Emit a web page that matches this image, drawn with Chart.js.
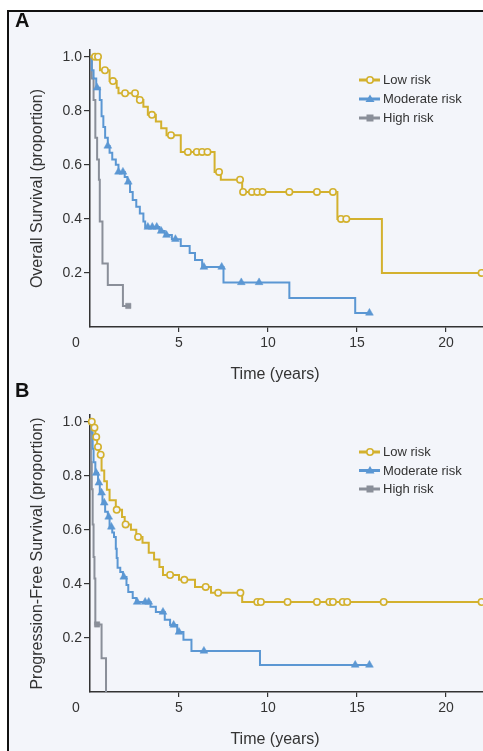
<!DOCTYPE html>
<html>
<head>
<meta charset="utf-8">
<script src="https://cdn.jsdelivr.net/npm/chart.js@4.4.1/dist/chart.umd.min.js"></script>
<style>
  html, body { margin: 0; padding: 0; background: #fff; }
  body { width: 483px; height: 751px; position: relative; overflow: hidden; }
  #frame { position: absolute; left: 7px; top: 10px; width: 480px; height: 745px;
           background: #f3f5fa; border-top: 2px solid #111; border-left: 2px solid #111; }
  .panel { position: absolute; left: 0; width: 483px; }
  #wrapA { top: 0; height: 385px; }
  #wrapB { top: 385px; height: 366px; }
  .tag { position: absolute; left: 15px; font: bold 20px/20px 'Liberation Sans', Arial, sans-serif; color: #111; }
</style>
</head>
<body>
<div id="frame"></div>
<div class="panel" id="wrapA"><canvas id="chartA"></canvas></div>
<div class="panel" id="wrapB"><canvas id="chartB"></canvas></div>
<div class="tag" style="top:10px">A</div>
<div class="tag" style="top:380px">B</div>
<script>
// groups / legend
const groupLabels = ['Low risk', 'Moderate risk', 'High risk'];
const groupColors = ['#d3b12e', '#5b97d3', '#8a8f99'];
const markStyles = ['circle', 'triangle', 'rect'];

// ticks
const xTicks = [5, 10, 15, 20];
const xTickLabels = ['5', '10', '15', '20'];
const yTicks = [0.2, 0.4, 0.6, 0.8, 1.0];
const yTickLabels = ['0.2', '0.4', '0.6', '0.8', '1.0'];
const cornerLabel = '0';
const xTitle = 'Time (years)';

// Panel A - overall survival (step times, survival after step, censor times)
const lowA_t = [0, 0.56, 1.1, 1.5, 1.6, 2.65, 3.0, 3.25, 3.7, 4.0, 4.3, 5.1, 7.0, 7.35, 8.55, 13.9, 16.4];
const lowA_s = [1.0, 0.95, 0.91, 0.885, 0.865, 0.84, 0.815, 0.785, 0.76, 0.735, 0.71, 0.648, 0.574, 0.545, 0.5, 0.4, 0.2];
const lowA_c = [0.28, 0.45, 0.84, 1.29, 1.97, 2.53, 2.8, 3.48, 4.55, 5.5, 6.0, 6.3, 6.6, 7.25, 8.43, 8.6, 9.1, 9.4, 9.7, 11.2, 12.75, 13.65, 14.1, 14.4, 22];

const modA_t = [0, 0.1, 0.2, 0.35, 0.55, 0.65, 0.75, 0.85, 1.0, 1.1, 1.25, 1.45, 1.6, 1.95, 2.1, 2.25, 2.4, 2.6, 2.8, 3.0, 3.1, 3.9, 4.2, 4.6, 5.1, 5.6, 5.9, 6.3, 7.5, 11.2, 14.9];
const modA_s = [1.0, 0.95, 0.92, 0.885, 0.84, 0.78, 0.74, 0.70, 0.67, 0.645, 0.62, 0.60, 0.574, 0.555, 0.537, 0.50, 0.47, 0.445, 0.42, 0.39, 0.37, 0.355, 0.34, 0.325, 0.30, 0.274, 0.248, 0.222, 0.165, 0.107, 0.052];
const modA_c = [0.4, 1.0, 1.6, 1.85, 2.15, 3.25, 3.5, 3.75, 4.0, 4.3, 4.8, 6.4, 7.4, 8.5, 9.5, 15.7];

const highA_t = [0, 0.1, 0.2, 0.3, 0.4, 0.5, 0.55, 0.7, 1.0, 1.85];
const highA_s = [1.0, 0.92, 0.84, 0.70, 0.62, 0.545, 0.39, 0.235, 0.155, 0.078];
const highA_c = [2.15];

// Panel B - progression-free survival
const lowB_t = [0, 0.15, 0.3, 0.4, 0.5, 0.65, 0.8, 0.95, 1.1, 1.45, 1.8, 1.95, 2.3, 2.6, 2.95, 3.3, 3.6, 3.9, 4.1, 5.0, 5.9, 6.8, 8.55];
const lowB_s = [1.0, 0.978, 0.944, 0.907, 0.878, 0.82, 0.78, 0.748, 0.71, 0.674, 0.648, 0.62, 0.60, 0.574, 0.552, 0.515, 0.49, 0.463, 0.433, 0.415, 0.389, 0.367, 0.333];
const lowB_c = [0.1, 0.25, 0.35, 0.45, 0.6, 1.5, 2.0, 2.7, 4.5, 5.3, 6.5, 7.2, 8.45, 9.4, 9.6, 11.1, 12.75, 13.45, 13.65, 14.2, 14.45, 16.5, 22];

const modB_t = [0, 0.1, 0.15, 0.2, 0.3, 0.45, 0.55, 0.7, 0.85, 1.0, 1.1, 1.25, 1.35, 1.45, 1.5, 1.55, 1.7, 1.85, 2.05, 2.15, 2.4, 2.6, 3.4, 3.7, 4.2, 4.5, 4.9, 5.25, 5.7, 9.55];
const modB_s = [1.0, 0.96, 0.90, 0.85, 0.81, 0.774, 0.737, 0.70, 0.667, 0.648, 0.611, 0.59, 0.574, 0.53, 0.496, 0.46, 0.444, 0.426, 0.396, 0.37, 0.348, 0.333, 0.315, 0.296, 0.267, 0.248, 0.222, 0.193, 0.152, 0.10];
const modB_c = [0.35, 0.5, 0.65, 0.8, 1.05, 1.2, 1.9, 2.65, 3.1, 3.3, 4.1, 4.7, 5.0, 6.4, 14.9, 15.7];

const highB_t = [0, 0.05, 0.1, 0.15, 0.2, 0.25, 0.3, 0.65, 0.9];
const highB_s = [1.0, 0.85, 0.75, 0.62, 0.5, 0.42, 0.25, 0.125, 0];
const highB_c = [0.4];

const paper = '#f3f5fa';
const ink = '#333';
const family = "'Liberation Sans', Arial, sans-serif";

// survival value at time t from the step arrays
function survAt(ts, ss, t) {
    let v = ss[0];
    for (let i = 0; i < ts.length; i++) { if (ts[i] <= t) v = ss[i]; }
    return v;
}

function buildDatasets(groups) {
    let sets = [];
    groups.forEach(function(g, i) {
        let line = g.t.map((t, k) => ({x: t, y: g.s[k]}));
        let end = Math.max(g.t[g.t.length - 1], g.c[g.c.length - 1]);
        line.push({x: end, y: g.s[g.s.length - 1]});
        sets.push({
            label: groupLabels[i], data: line, stepped: 'before',
            borderColor: groupColors[i], borderWidth: 2, pointRadius: 0,
            fill: false, order: i * 2 + 1
        });
        let st = markStyles[i];
        sets.push({
            label: groupLabels[i] + ' censored',
            data: g.c.map(t => ({x: t, y: survAt(g.t, g.s, t)})),
            showLine: false, pointStyle: st,
            pointRadius: st === 'circle' ? 3.2 : (st === 'triangle' ? 4.5 : 3.8),
            pointBackgroundColor: st === 'circle' ? paper : groupColors[i],
            pointBorderColor: groupColors[i],
            pointBorderWidth: st === 'circle' ? 1.6 : 0.5,
            order: i * 2, clip: false
        });
    });
    return sets;
}

function drawMark(ctx, style, x, y, color) {
    ctx.fillStyle = style === 'circle' ? paper : color;
    ctx.strokeStyle = color;
    ctx.lineWidth = 1.6;
    ctx.beginPath();
    if (style === 'circle') {
        ctx.arc(x, y, 3.2, 0, Math.PI * 2);
        ctx.fill(); ctx.stroke();
    } else if (style === 'triangle') {
        ctx.moveTo(x, y - 4.5); ctx.lineTo(x + 4.5, y + 3); ctx.lineTo(x - 4.5, y + 3);
        ctx.closePath(); ctx.fill();
    } else {
        ctx.rect(x - 3.5, y - 3.5, 7, 7); ctx.fill();
    }
}

// legend with line + marker, x title, and the shared "0" at the corner
const extras = {
    id: 'extras',
    afterDraw(chart, args, o) {
        const ctx = chart.ctx;
        const xs = chart.scales.x;
        ctx.save();
        ctx.font = '14px ' + family;
        ctx.fillStyle = ink;
        ctx.textAlign = 'center';
        ctx.textBaseline = 'top';
        ctx.fillText(cornerLabel, xs.left - 14, xs.top + 9);
        ctx.font = '16px ' + family;
        ctx.textBaseline = 'middle';
        ctx.fillText(xTitle, 275, o.xTitleY);
        groupLabels.forEach(function(lbl, i) {
            let y = o.legendY + i * o.legendGap;
            ctx.strokeStyle = groupColors[i];
            ctx.lineWidth = 3;
            ctx.beginPath(); ctx.moveTo(359, y); ctx.lineTo(380, y); ctx.stroke();
            drawMark(ctx, markStyles[i], 370, y, groupColors[i]);
            ctx.fillStyle = ink;
            ctx.font = '13px ' + family;
            ctx.textAlign = 'left';
            ctx.textBaseline = 'middle';
            ctx.fillText(lbl, 383, y + 0.5);
        });
        ctx.restore();
    }
};

function makeChart(id, groups, cfg) {
    return new Chart(document.getElementById(id), {
        type: 'line',
        data: { datasets: buildDatasets(groups) },
        plugins: [extras],
        options: {
            responsive: true,
            maintainAspectRatio: false,
            animation: false,
            layout: { autoPadding: false, padding: { top: cfg.padTop, left: 0, right: 0, bottom: 0 } },
            plugins: {
                legend: { display: false },
                tooltip: { enabled: false },
                extras: { legendY: cfg.legendY, legendGap: cfg.legendGap, xTitleY: cfg.xTitleY }
            },
            scales: {
                x: {
                    type: 'linear', min: 0, max: 22.08,
                    afterBuildTicks: s => { s.ticks = xTicks.map(v => ({value: v})); },
                    afterFit: s => { s.height = cfg.xHeight; },
                    ticks: {
                        callback: (v, i) => xTickLabels[i], autoSkip: false, maxRotation: 0,
                        color: ink, padding: 3, font: { size: 14, family: family }
                    },
                    grid: { display: true, drawOnChartArea: false, drawTicks: true, tickLength: 5, color: ink, lineWidth: 1.2 },
                    border: { display: true, color: ink, width: 1.5 }
                },
                y: {
                    type: 'linear', min: 0, max: 1.025,
                    afterBuildTicks: s => { s.ticks = yTicks.map(v => ({value: v})); },
                    afterFit: s => { s.width = 90; },
                    ticks: {
                        callback: (v, i) => yTickLabels[i], autoSkip: false,
                        color: ink, padding: 2, font: { size: 14, family: family }
                    },
                    grid: { display: true, drawOnChartArea: false, drawTicks: true, tickLength: 6, color: ink, lineWidth: 1.2 },
                    border: { display: true, color: ink, width: 1.5 },
                    title: {
                        display: true, text: cfg.yTitle, color: ink,
                        font: { size: 16, family: family, lineHeight: 1.2 },
                        padding: { top: 28.4, bottom: 0 }
                    }
                }
            }
        }
    });
}

makeChart('chartA', [
    { t: lowA_t, s: lowA_s, c: lowA_c },
    { t: modA_t, s: modA_s, c: modA_c },
    { t: highA_t, s: highA_s, c: highA_c }
], { padTop: 50, xHeight: 58, xTitleY: 375, legendY: 80, legendGap: 19,
     yTitle: 'Overall Survival (proportion)' });

makeChart('chartB', [
    { t: lowB_t, s: lowB_s, c: lowB_c },
    { t: modB_t, s: modB_s, c: modB_c },
    { t: highB_t, s: highB_s, c: highB_c }
], { padTop: 30, xHeight: 59, xTitleY: 355, legendY: 67, legendGap: 18.5,
     yTitle: 'Progression-Free Survival (proportion)' });
</script>
</body>
</html>
